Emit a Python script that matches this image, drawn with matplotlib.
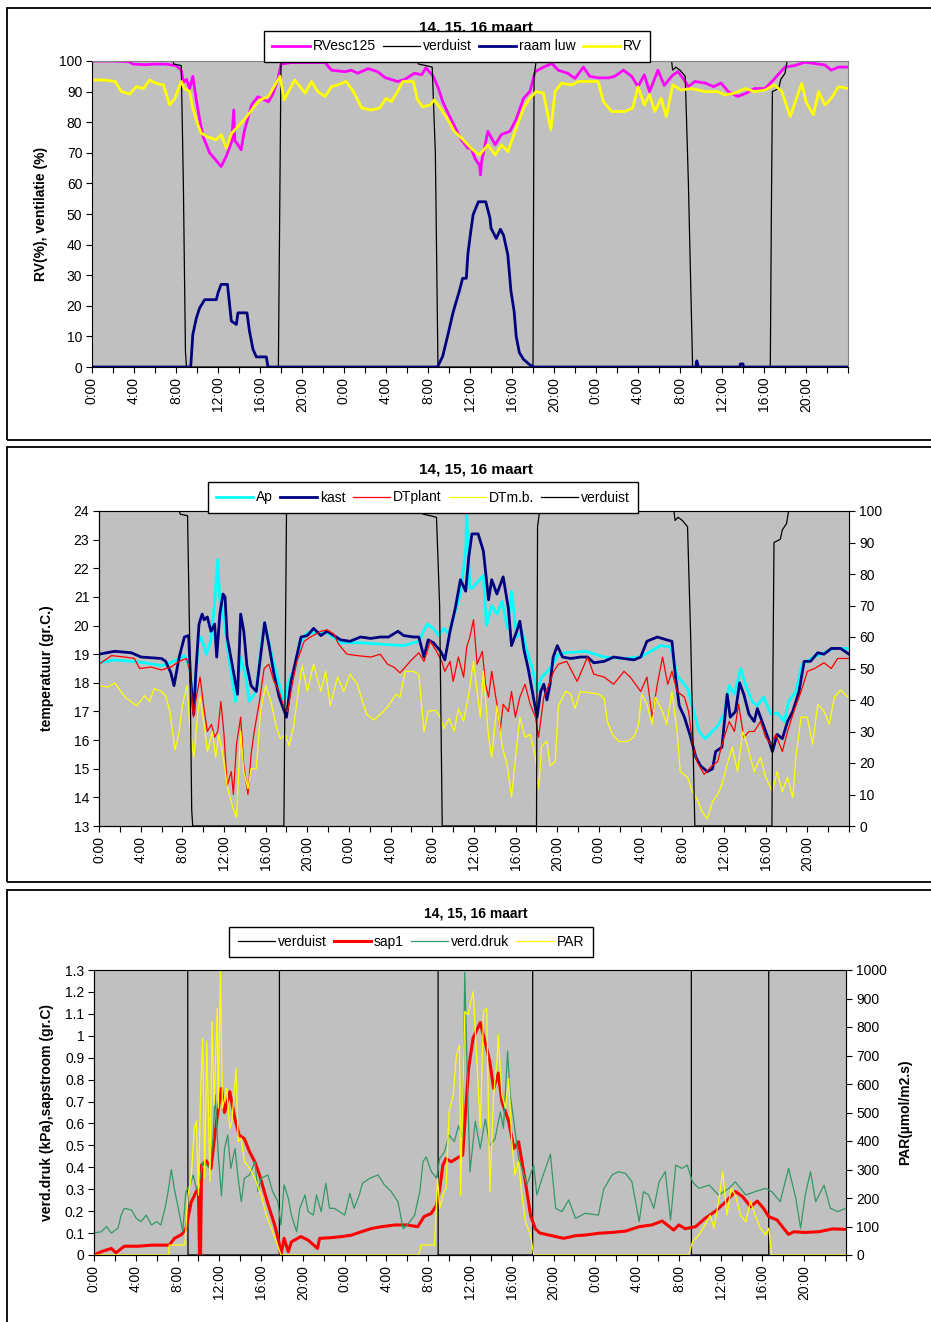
import numpy as np
import matplotlib
matplotlib.use('Agg')
import matplotlib.pyplot as plt
from matplotlib.patches import Rectangle
from matplotlib.ticker import FormatStrFormatter

plt.rcParams['font.family'] = ['Liberation Sans', 'DejaVu Sans']

# ---- data (hours since 14 maart 0:00) ----------------------------------
# verduist (screen) position, %
verduist_t = [0, 7.7, 7.8, 8.5, 8.7, 8.9, 9.0, 17.75, 17.85, 18.0, 31.0, 31.1, 31.8, 32.4,
              32.7, 32.95, 42.0, 42.1, 42.3, 55.2, 55.3, 55.6, 56.0, 56.5, 56.8, 57.2,
              64.6, 64.7, 64.8, 65.4, 65.6, 66.0, 66.2, 72]
verduist_v = [100, 100, 99, 98.5, 60, 5, 0, 0, 40, 100, 100, 99, 98.5, 98,
              70, 0, 0, 95, 100, 100, 97, 98, 97, 95, 60, 0,
              0, 50, 90, 91, 94, 96, 100, 100]

# panel 1
rvesc_t = [0, 2, 3.5, 3.9, 5, 6, 7, 8, 8.5, 8.7, 9.0, 9.3, 9.6, 9.9, 10.0, 10.3, 10.6, 10.9,
           11.2, 11.7, 12.3, 12.8, 13.3, 13.5, 13.6, 13.9, 14.2, 14.5, 14.9, 15.2, 15.8, 16.8,
           17.2, 17.7, 18.0, 19, 22.2, 22.8, 24.1, 24.7, 25.3, 26.3, 27.2, 27.9, 29.1, 29.8,
           30.7, 31.4, 31.8, 32.5, 33.0, 33.4, 33.9, 34.2, 34.9, 35.3, 35.8, 36.1, 36.5, 36.9,
           37.0, 37.1, 37.7, 38.4, 39.0, 39.8, 40.4, 41.1, 41.7, 42.2, 43.0, 43.8, 44.4, 45.3,
           46.0, 46.8, 47.4, 48.2, 49.2, 49.8, 50.6, 51.4, 52.0, 52.6, 53.1, 53.9, 54.5, 55.3,
           55.8, 56.3, 56.8, 57.4, 58.4, 59.2, 59.9, 60.6, 61.5, 62.3, 63.1, 64.1, 64.9, 65.3,
           66.0, 66.9, 67.9, 68.8, 69.8, 70.4, 71.1, 72]
rvesc_v = [100, 100, 99.8, 99, 98.8, 99, 99, 98.5, 97, 93, 94, 91, 95, 88, 86, 80, 75, 72.6,
           70, 68, 65.5, 69, 73.7, 84, 74, 72.6, 71, 77, 82, 85.7, 88.3, 86.7,
           89, 94, 99, 99.5, 99.5, 97, 96.5, 97, 96, 97.5, 96.5, 94.6, 93.3, 94,
           96, 95.5, 97.8, 95, 91, 86.7, 83, 81, 76, 73.7, 71.5, 71.5, 68, 66,
           62.8, 67, 77, 72.6, 76, 77, 81, 87.8, 90, 96.5, 98, 99.2, 97, 96,
           94.3, 98, 95, 94.5, 94.5, 95, 97, 95, 91.6, 95.5, 90, 97, 92, 95.4,
           96.5, 94.3, 91.6, 93.3, 92.8, 91.6, 92.8, 90, 88.4, 89.5, 91, 91, 93.8, 95.4,
           98, 98.5, 99.6, 99.2, 98.7, 97, 98, 98]

rv_t = [0, 1.2, 2.2, 2.8, 3.6, 4.2, 4.9, 5.5, 6.1, 6.8, 7.4, 7.9, 8.5, 8.8, 9.3, 9.6, 10.1,
        10.4, 11.0, 11.8, 12.3, 12.8, 13.3, 13.9, 14.5, 15.2, 16.0, 16.8, 17.4, 17.9, 18.3,
        19.3, 20.3, 20.9, 21.5, 22.2, 22.8, 23.4, 24.2, 24.9, 25.7, 26.6, 27.4, 28.0, 28.5,
        29.1, 29.6, 30.6, 31.0, 31.5, 32.2, 32.6, 33.3, 33.9, 34.5, 35.2, 36.1, 36.9, 37.7,
        38.4, 39.0, 39.6, 40.4, 41.1, 41.7, 42.3, 43.0, 43.7, 44.1, 44.7, 45.7, 46.3, 48.2,
        48.7, 49.5, 50.7, 51.5, 52.0, 52.6, 53.1, 53.6, 54.2, 54.7, 55.3, 56.1, 57.1, 58.4,
        59.6, 60.3, 61.2, 62.2, 63.1, 64.1, 65.0, 65.7, 66.5, 67.2, 67.6, 68.0, 68.7, 69.2,
        69.8, 70.4, 71.1, 72]
rv_v = [93.8, 93.8, 93.3, 90, 89.2, 91.6, 91, 93.8, 92.7, 92.2, 85.6, 87.8, 93.3, 91, 90, 84.6, 79,
        76.4, 75.3, 74.2, 75.9, 71.5, 76.4, 78.6, 80.8, 84, 87.3, 88.4, 92, 95, 87.3,
        93.8, 89.5, 93.3, 90, 88.4, 91.6, 92.2, 93.3, 90, 84.6, 84, 84.6, 87.8, 86.7,
        90, 93.3, 93.3, 87.3, 85, 85.6, 87.3, 84, 80.8, 77, 74.8, 71.5, 69.3, 72.6,
        69.3, 72.6, 70.4, 78, 84.6, 87.8, 90, 89.5, 77.5, 90, 92.7, 92.2, 93.3, 93.3,
        86.7, 83.5, 83.5, 84.6, 91.6, 85.6, 89, 83.5, 87.8, 81.8, 92.2, 90.5, 91, 90,
        90, 88.9, 89.5, 91, 90, 90.5, 92.2, 90, 81.8, 88.9, 92.7, 86.7, 82.4, 90,
        85.6, 87.8, 91.6, 91]

raam_t = [0, 9.4, 9.6, 9.94, 10.25, 10.73, 11.84, 12.0, 12.3, 12.9, 13.27, 13.75, 13.9, 14.76,
          15.0, 15.33, 15.65, 16.6, 16.76, 32.9, 33.4, 33.9, 34.4, 35.0, 35.3, 35.65, 35.8,
          36.1, 36.3, 36.8, 37.5, 37.9, 38.0, 38.5, 38.9, 39.2, 39.6, 39.9, 40.2, 40.4, 40.7,
          41.1, 41.6, 42.0, 57.5, 57.6, 57.75, 61.7, 61.75, 62.0, 62.05, 72]
raam_v = [0, 0, 10.6, 16, 19.3, 22, 22, 24.2, 27, 27, 15, 13.9, 17.7, 17.7,
          11.7, 5.8, 3.3, 3.3, 0, 0, 3.5, 10.6, 18, 25, 29, 29, 37,
          45, 49.8, 54, 54, 48.7, 45.4, 42, 45, 43, 36.7, 24.8, 18.3, 10, 4.7,
          2.5, 1, 0, 0, 2, 0, 0, 1, 1, 0, 0]

# panel 2 (gr.C.)
kast_t = [0, 1.5, 3.1, 4.05, 6, 6.4, 6.9, 7.2, 7.7, 8.2, 8.6, 8.8, 9.1, 9.3, 9.6, 9.9, 10.1,
          10.4, 10.75, 11.1, 11.3, 11.6, 11.9, 12.1, 12.3, 12.7, 13.0, 13.3, 13.6, 13.9, 14.2,
          14.6, 15.1, 15.5, 15.9, 16.3, 16.8, 17.3, 17.7, 18.0, 18.4, 18.9, 19.4, 20, 20.6,
          21.3, 21.9, 22.55, 23.2, 24.1, 25.1, 26.1, 27, 27.8, 28.7, 29.25, 30.2, 30.7, 31.2,
          31.6, 32.1, 32.8, 33.2, 33.7, 34.2, 34.7, 35.2, 35.5, 35.8, 36.4, 36.9, 37.4, 37.7,
          38.2, 38.8, 39.3, 39.6, 40.1, 40.4, 40.8, 41.2, 41.7, 42.05, 42.4, 42.7, 43, 43.3,
          43.6, 44.0, 44.5, 45.3, 46.2, 46.9, 47.5, 48.5, 49.4, 50.4, 51.35, 52, 52.6, 53.6,
          54.5, 55, 55.35, 55.7, 56.2, 56.8, 57.3, 57.75, 58.4, 58.9, 59.2, 59.8, 60.3, 60.6,
          61.1, 61.5, 61.9, 62.4, 62.9, 63.2, 63.7, 64.2, 64.65, 65.1, 65.6, 66.1, 66.6, 67.2,
          67.7, 68.3, 69, 69.6, 70.3, 71.2, 72]
kast_v = [19.0, 19.1, 19.05, 18.9, 18.85, 18.75, 18.35, 17.9, 18.9, 19.6, 19.65, 18.1, 16.9, 18.4,
          20.05, 20.4, 20.2, 20.3, 19.8, 20.05, 18.9, 20.4, 21.1, 21.0, 19.6, 18.8, 18.2, 17.6,
          20.4, 19.8, 18.6, 17.9, 17.7, 18.9, 20.1, 19.35, 18.3, 17.5, 17.1, 16.8, 18.0, 18.8,
          19.6, 19.65, 19.9, 19.65, 19.8, 19.65, 19.5, 19.45, 19.6, 19.55, 19.6, 19.6, 19.8,
          19.65, 19.6, 19.6, 18.9, 19.5, 19.4, 19.1, 18.8, 19.8, 20.6, 21.6, 21.2, 22.4, 23.2,
          23.2, 22.6, 20.9, 21.6, 21.1, 21.7, 20.6, 19.3, 19.8, 20.15, 19.15, 18.5, 17.5, 16.8,
          17.7, 17.95, 17.4, 17.95, 18.9, 19.3, 18.9, 18.85, 18.9, 18.9, 18.7, 18.75, 18.9,
          18.85, 18.8, 18.9, 19.45, 19.6, 19.5, 19.45, 18.2, 17.2, 16.8, 16.1, 15.4, 15.1,
          14.9, 15.0, 15.6, 15.75, 17.6, 16.8, 17.0, 18.0, 17.6, 16.9, 16.65, 17.1, 16.6, 16.1,
          15.6, 16.2, 16.05, 16.65, 17.0, 17.7, 18.75, 18.75, 19.05, 19.0, 19.2, 19.2, 19.0]

ap_t = [0, 1.5, 3.1, 4.4, 6, 7.2, 8.2, 8.7, 9.1, 9.5, 9.8, 10.3, 10.75, 11.1, 11.4, 11.6, 12.0,
        12.5, 13.1, 13.6, 14.1, 14.4, 15.1, 15.5, 15.9, 16.5, 17.1, 17.8, 18.2, 18.9, 19.4,
        20, 21.9, 23.2, 25.1, 27, 29.25, 30.7, 31.5, 32.1, 32.6, 33.1, 33.6, 34.2, 34.7,
        35.2, 35.3, 35.6, 35.8, 36.9, 37.2, 37.7, 38.2, 38.7, 39.2, 39.6, 40.1, 40.6, 41.1,
        41.6, 42.05, 42.5, 43.3, 44.1, 44.8, 46.7, 48.5, 50.4, 52, 52.95, 53.9, 54.9, 55.5,
        56.5, 57.1, 57.6, 58.2, 59.4, 60.0, 60.5, 61, 61.6, 62.1, 62.7, 63.2, 63.8, 64.5,
        65.1, 65.8, 66.2, 66.9, 67.5, 68.6, 69.6, 70.6, 72]
ap_v = [18.7, 18.8, 18.75, 18.7, 18.6, 18.75, 18.95, 18.55, 17.0, 19.35, 19.6, 19.0, 19.5, 20.8,
        22.3, 20.9, 20.2, 18.8, 17.35, 18.9, 18.2, 17.35, 17.7, 19.1, 20.1, 19.1, 18.2, 17.35,
        18.05, 18.6, 19.45, 19.75, 19.75, 19.4, 19.4, 19.35, 19.3, 19.45, 20.05, 19.9, 19.65,
        19.9, 19.7, 20.5, 21.1, 22.6, 24.0, 21.3, 21.3, 21.75, 20.0, 20.7, 20.4, 20.85, 19.9,
        21.2, 19.6, 19.8, 19.1, 18.5, 17.7, 18.2, 18.5, 19.0, 19.05, 19.1, 18.9, 18.85, 18.9,
        19.1, 19.3, 19.25, 18.25, 17.8, 17.0, 16.3, 16.05, 16.5, 16.9, 17.9, 17.6, 18.5,
        17.9, 17.35, 17.2, 17.5, 16.9, 16.95, 16.65, 17.35, 17.7, 18.65, 18.9, 19.05, 19.2, 19.2]

dtplant_t = [0, 1.2, 2.5, 3.4, 3.9, 5, 6, 6.9, 7.7, 8.4, 8.7, 9.06, 9.3, 9.7, 10.1, 10.4, 10.8,
             11.1, 11.4, 11.7, 12.0, 12.3, 12.7, 12.9, 13.2, 13.6, 13.9, 14.3, 14.6, 14.9, 15.4,
             15.85, 16.3, 16.8, 17.3, 17.8, 18.1, 18.6, 19, 19.7, 20.3, 21.3, 21.9, 22.55, 23.0,
             23.8, 24.8, 26.1, 27, 27.7, 28.3, 28.9, 29.4, 30.0, 30.7, 31.2, 31.8, 32.4, 32.9,
             33.2, 33.7, 34.0, 34.5, 35.0, 35.3, 35.6, 35.95, 36.3, 36.8, 37.1, 37.4, 37.7, 38.2,
             38.5, 38.8, 39.3, 39.6, 39.97, 40.4, 40.9, 41.4, 41.9, 42.2, 42.7, 43.2, 43.65, 44.1,
             44.9, 45.4, 45.9, 46.9, 47.5, 48.5, 49.4, 50.4, 51, 52, 52.6, 53.1, 53.6, 54.1, 54.6,
             55.0, 55.5, 56.2, 56.6, 57, 57.4, 58.1, 58.7, 59.4, 59.8, 60.5, 61, 61.4, 61.9, 62.4,
             62.9, 63.5, 64, 64.5, 64.96, 65.6, 66.1, 66.7, 67.4, 68, 68.7, 69.6, 70.3, 70.9, 72]
dtplant_v = [18.65, 18.95, 18.9, 18.85, 18.5, 18.55, 18.45, 18.55, 18.75, 18.85, 18.45, 16.8, 17.4,
             18.2, 17.05, 16.3, 16.55, 16.1, 16.3, 17.35, 16.2, 14.4, 14.9, 14.1, 15.85, 16.8,
             15.1, 14.1, 15.5, 16.3, 17.35, 18.5, 18.65, 18.05, 17.7, 17.1, 17.0, 18.05, 18.75,
             19.45, 19.6, 19.8, 19.85, 19.7, 19.35, 19.0, 18.95, 18.9, 19.0, 18.65, 18.55, 18.35,
             18.55, 18.8, 19.05, 18.75, 19.45, 19.1, 18.75, 18.4, 18.75, 18.05, 18.9, 18.2, 19.25,
             19.6, 20.2, 18.65, 19.1, 17.95, 17.5, 18.4, 17.25, 16.3, 17.25, 17.0, 17.7, 16.8,
             17.5, 17.95, 17.25, 16.8, 16.1, 17.5, 17.95, 18.4, 18.65, 18.75, 18.4, 18.05, 18.9,
             18.3, 18.2, 17.95, 18.4, 18.2, 17.7, 18.2, 16.8, 17.95, 18.9, 17.95, 18.4, 17.7,
             17.5, 17.0, 15.85, 15.25, 14.8, 15.05, 15.25, 15.85, 16.65, 16.3, 17.25, 16.1,
             16.3, 16.3, 16.65, 16.1, 15.85, 16.2, 15.6, 16.3, 17.0, 17.7, 18.4, 18.5, 18.7,
             18.5, 18.85, 18.85]

dtmb_t = [0, 0.86, 1.5, 2.5, 3.6, 4.4, 4.85, 5.3, 6, 6.4, 6.8, 7.3, 7.7, 8.0, 8.45, 8.7, 9.1, 9.5,
          9.7, 10.1, 10.4, 10.9, 11.2, 11.5, 12.0, 12.3, 12.8, 13.2, 13.6, 13.9, 14.3, 14.6, 15.1,
          15.5, 16, 16.5, 17, 17.4, 17.9, 18.25, 18.7, 19.2, 19.5, 20, 20.6, 21.3, 21.75, 22.2,
          22.9, 23.5, 24.1, 24.8, 25.3, 25.7, 26.4, 27.3, 27.8, 28.5, 28.9, 29.4, 30.2, 30.7,
          31.2, 31.6, 32.3, 32.8, 33.1, 33.6, 34.1, 34.5, 35, 35.5, 35.95, 36.3, 36.6, 36.9,
          37.4, 37.7, 38.2, 38.7, 39.2, 39.6, 40.1, 40.4, 40.9, 41.4, 41.9, 42.2, 42.5, 43,
          43.3, 43.8, 44.1, 44.8, 45.3, 45.7, 46.2, 47.2, 48, 48.5, 48.8, 49.3, 49.9, 50.7,
          51.35, 51.8, 52.1, 52.6, 53.1, 53.4, 54.1, 54.5, 55.0, 55.5, 55.8, 56.5, 56.95, 57.4,
          57.9, 58.4, 58.9, 59.4, 59.8, 60.3, 60.8, 61.3, 61.8, 62.2, 62.9, 63.5, 64, 64.65,
          65.1, 65.6, 66.1, 66.6, 66.9, 67.4, 68, 68.5, 69, 69.6, 70.1, 70.6, 71.2, 71.9]
dtmb_v = [17.9, 17.85, 18.0, 17.5, 17.2, 17.55, 17.35, 17.8, 17.7, 17.55, 17.0, 15.65, 16.3, 17.2,
          17.9, 16.6, 15.4, 17.0, 17.5, 16.5, 15.6, 16.3, 15.4, 16.2, 15.25, 14.4, 13.7, 13.3,
          16.3, 14.9, 14.3, 15.0, 15.0, 17.0, 17.9, 17.35, 16.5, 16.05, 16.2, 15.8, 16.5, 17.9,
          18.6, 17.7, 18.65, 17.7, 18.4, 17.2, 18.2, 17.7, 18.3, 17.95, 17.35, 16.9, 16.7, 17.0,
          17.2, 17.6, 17.5, 18.4, 18.4, 18.3, 16.3, 17.0, 17.05, 16.75, 16.4, 16.75, 16.3, 17.1,
          16.65, 17.6, 18.75, 17.7, 16.8, 18.4, 16.1, 15.4, 17.2, 15.8, 15.1, 14.0, 15.8, 16.8,
          16.1, 16.2, 15.4, 14.3, 15.8, 15.95, 15.1, 15.25, 17.2, 17.7, 17.6, 17.1, 17.7, 17.65,
          17.6, 17.45, 16.65, 16.2, 15.95, 15.95, 16.1, 16.55, 17.6, 17.25, 16.55, 17.5, 17.0,
          16.55, 17.7, 16.3, 14.9, 14.7, 14.2, 13.95, 13.5, 13.25, 13.85, 14.1, 14.45, 15.15,
          15.75, 14.9, 16.3, 15.85, 14.9, 15.4, 14.7, 14.2, 14.9, 14.2, 14.7, 14.0, 15.4, 16.8,
          16.8, 15.85, 17.25, 17.0, 16.55, 17.5, 17.75, 17.5]

# panel 3
sap_t = [0, 0.7, 1.66, 2.1, 2.9, 4.2, 5.5, 6.3, 7.2, 7.7, 8.4, 8.8, 9.3, 9.8, 10.0, 10.1, 10.2,
         10.3, 10.75, 11.2, 11.5, 11.9, 12.2, 12.5, 13.0, 13.5, 13.9, 14.4, 14.9, 15.4, 15.85,
         16.3, 16.8, 17.3, 17.7, 17.9, 18.2, 18.6, 18.9, 19.8, 20.5, 21.4, 21.6, 22.7, 23.7,
         24.6, 25.6, 26.5, 27.5, 28.8, 30.0, 31, 31.6, 32.3, 32.8, 33.1, 33.4, 33.7, 34.2,
         34.7, 35.3, 35.6, 35.86, 36.3, 36.98, 37.46, 37.9, 38.26, 38.7, 39.05, 39.7, 40.2,
         40.65, 40.97, 41.3, 41.8, 42.25, 42.7, 43.85, 44.96, 46.1, 47.04, 48.3, 49.6, 50.9,
         52.2, 53.4, 54.4, 55.5, 56, 56.6, 57.6, 58.5, 59.5, 60.5, 61.4, 62.1, 62.86, 63.5,
         64.1, 64.6, 65.4, 66.05, 66.5, 67, 68.1, 69.4, 70.7, 72]
sap_v = [0.0, 0.015, 0.03, 0.01, 0.04, 0.04, 0.045, 0.045, 0.045, 0.076, 0.094, 0.12, 0.24, 0.29,
         0.3, 0.0, 0.0, 0.41, 0.43, 0.395, 0.52, 0.67, 0.76, 0.65, 0.745, 0.62, 0.547, 0.53,
         0.47, 0.425, 0.365, 0.29, 0.21, 0.137, 0.06, 0.0, 0.076, 0.015, 0.06, 0.084, 0.068,
         0.03, 0.076, 0.079, 0.084, 0.09, 0.106, 0.12, 0.129, 0.137, 0.137, 0.129, 0.175, 0.19,
         0.228, 0.30, 0.41, 0.44, 0.425, 0.44, 0.456, 0.67, 0.85, 0.99, 1.06, 0.97, 0.88, 0.76,
         0.83, 0.70, 0.61, 0.486, 0.517, 0.426, 0.334, 0.18, 0.12, 0.1, 0.088, 0.076, 0.088,
         0.091, 0.099, 0.103, 0.109, 0.129, 0.137, 0.155, 0.114, 0.137, 0.12, 0.129, 0.167,
         0.20, 0.243, 0.29, 0.266, 0.22, 0.246, 0.213, 0.175, 0.16, 0.12, 0.094, 0.106,
         0.103, 0.106, 0.119, 0.117]

druk_t = [0, 0.7, 1.2, 1.66, 2.3, 2.6, 2.9, 3.6, 4.05, 4.5, 5.0, 5.5, 6.0, 6.4, 6.8, 7.1, 7.4,
          7.7, 8.2, 8.5, 8.8, 9.2, 9.5, 9.8, 10.1, 10.4, 10.75, 11.1, 11.4, 11.6, 11.9, 12.2,
          12.5, 12.8, 13.1, 13.5, 13.8, 14.1, 14.4, 14.9, 15.4, 15.7, 16, 16.65, 17.1, 17.6,
          17.9, 18.2, 18.6, 18.9, 19.4, 19.7, 20.2, 20.5, 21, 21.3, 21.75, 22.2, 22.55, 23,
          23.5, 24, 24.5, 24.9, 25.4, 25.7, 26.4, 27.2, 27.8, 28.45, 29.1, 29.6, 30.0, 30.7,
          31.2, 31.5, 31.8, 32.3, 32.8, 33.1, 33.55, 34.0, 34.5, 34.9, 35.3, 35.5, 35.8, 36.0,
          36.5, 36.98, 37.46, 37.9, 38.4, 38.9, 39.2, 39.6, 39.85, 40.2, 40.65, 40.97, 41.45,
          42.1, 42.4, 42.9, 43.7, 44.2, 44.8, 45.45, 46.1, 47.04, 48.3, 48.8, 49.6, 50.2, 50.9,
          51.5, 52.2, 52.6, 53.1, 53.6, 54.1, 54.7, 55.2, 55.7, 56.3, 56.8, 57.3, 57.9, 58.9,
          59.8, 60.8, 61.4, 62.4, 63.3, 64.3, 64.9, 65.7, 66.5, 67.2, 67.65, 68.1, 68.6, 69.1,
          69.9, 70.5, 71.2, 72]
druk_v = [0.1, 0.106, 0.13, 0.1, 0.122, 0.182, 0.213, 0.205, 0.167, 0.152, 0.182, 0.137, 0.152,
          0.137, 0.213, 0.29, 0.39, 0.30, 0.182, 0.106, 0.29, 0.32, 0.365, 0.30, 0.334, 0.425,
          0.41, 0.395, 0.53, 0.73, 0.456, 0.27, 0.486, 0.547, 0.395, 0.486, 0.35, 0.243, 0.35,
          0.365, 0.425, 0.29, 0.35, 0.365, 0.29, 0.243, 0.137, 0.32, 0.26, 0.182, 0.106, 0.213,
          0.274, 0.198, 0.182, 0.274, 0.198, 0.327, 0.213, 0.213, 0.198, 0.182, 0.281, 0.213,
          0.274, 0.327, 0.35, 0.365, 0.32, 0.29, 0.243, 0.12, 0.137, 0.182, 0.29, 0.425, 0.448,
          0.38, 0.35, 0.44, 0.47, 0.547, 0.517, 0.59, 0.53, 1.29, 0.70, 0.38, 0.61, 0.486, 0.62,
          0.50, 0.53, 0.653, 0.578, 0.93, 0.73, 0.61, 0.44, 0.395, 0.32, 0.41, 0.274, 0.35,
          0.46, 0.213, 0.198, 0.251, 0.167, 0.19, 0.182, 0.30, 0.365, 0.38, 0.372, 0.334, 0.152,
          0.289, 0.274, 0.213, 0.334, 0.38, 0.160, 0.41, 0.395, 0.41, 0.334, 0.304, 0.319,
          0.274, 0.304, 0.334, 0.274, 0.289, 0.304, 0.289, 0.243, 0.395, 0.258, 0.122, 0.274,
          0.38, 0.243, 0.319, 0.213, 0.198, 0.213]

par_t = [0, 7.15, 7.2, 8.7, 9.0, 9.3, 9.6, 9.8, 10.0, 10.2, 10.4, 10.6, 10.8, 11.1, 11.3, 11.5,
         11.8, 11.9, 12.1, 12.3, 12.7, 13.0, 13.2, 13.6, 13.8, 14.1, 14.4, 14.9, 15.4, 16, 16.5,
         16.97, 17.45, 17.9, 31.1, 31.3, 32.6, 32.9, 33.1, 33.4, 33.7, 34.0, 34.4, 34.7, 35.0,
         35.1, 35.5, 35.8, 36.3, 36.66, 36.98, 37.3, 37.6, 37.9, 38.26, 38.6, 38.7, 39.05, 39.4,
         39.7, 40.0, 40.3, 40.65, 40.97, 41.3, 41.8, 42.1, 56.95, 57.3, 57.9, 58.5, 59.0, 59.35,
         59.8, 60.2, 60.6, 61.0, 61.4, 61.9, 62.4, 62.86, 63.3, 63.8, 64.3, 64.6, 64.9, 72]
par_v = [0, 0, 35, 35, 210, 270, 445, 470, 210, 560, 760, 270, 750, 257, 820, 526, 865, 515,
         1000, 515, 585, 445, 468, 655, 398, 410, 328, 304, 269, 210, 140, 94, 47, 0, 0, 35, 35,
         270, 164, 211, 234, 503, 562, 702, 737, 211, 854, 843, 924, 679, 445, 854, 866, 222,
         562, 690, 772, 562, 515, 620, 398, 281, 328, 211, 117, 70, 0, 0, 47, 70, 105, 140, 94,
         187, 292, 140, 234, 211, 140, 117, 187, 140, 94, 70, 94, 0, 0]

# ---- layout helpers -----------------------------------------------------
W, H = 931, 1322
GREY = '#C0C0C0'
hours = np.arange(0, 73, 2)
hour_labels = ['%d:00' % (h % 24) if (h % 4 == 0 and h < 72) else '' for h in hours]


def px_axes(fig, x0, y0, x1, y1):
    """ axes from pixel box (top-left origin) """
    ax = fig.add_axes([x0 / W, 1 - y1 / H, (x1 - x0) / W, (y1 - y0) / H])
    ax.set_facecolor(GREY)
    ax.set_xlim(0, 72)
    ax.set_xticks(hours)
    ax.set_xticklabels(hour_labels, rotation=90, fontsize=10)
    ax.tick_params(direction='out', length=4, width=0.8, labelsize=10, pad=3)
    ax.spines['top'].set_color('#808080')
    ax.spines['right'].set_color('#808080')
    return ax


def panel_box(fig, y0, y1):
    fig.patches.append(Rectangle((7 / W, 1 - y1 / H), 940 / W, (y1 - y0) / H,
                                 transform=fig.transFigure, fill=False,
                                 edgecolor='black', linewidth=1.3))


def legend(fig, handles, labels, cx, cy):
    leg = fig.legend(handles, labels, loc='center', bbox_to_anchor=(cx / W, 1 - cy / H),
                     ncol=len(handles), fancybox=False, edgecolor='black', framealpha=1,
                     fontsize=10, handlelength=2.7, handletextpad=0.2, columnspacing=0.5,
                     borderpad=0.6)
    leg.set_zorder(5)


fig = plt.figure(figsize=(W / 100, H / 100), dpi=100)
fig.patch.set_facecolor('white')

# ---- panel 1 -------------------------------------------------------------
panel_box(fig, 8, 440)
ax1 = px_axes(fig, 92, 61, 848, 367)
ax1.set_ylim(0, 100)
ax1.set_yticks(np.arange(0, 101, 10))
l_rvesc, = ax1.plot(rvesc_t, rvesc_v, color='#FF00FF', lw=2.0)
l_verd1, = ax1.plot(verduist_t, verduist_v, color='black', lw=0.9)
l_raam, = ax1.plot(raam_t, raam_v, color='#000080', lw=2.0)
l_rv, = ax1.plot(rv_t, rv_v, color='#FFFF00', lw=2.0)
ax1.set_ylabel('RV(%), ventilatie (%)', fontsize=10, fontweight='bold', labelpad=8)
fig.text(476 / W, 1 - 28 / H, '14, 15, 16 maart', ha='center', va='center',
         fontsize=11, fontweight='bold')
legend(fig, [l_rvesc, l_verd1, l_raam, l_rv], ['RVesc125', 'verduist', 'raam luw', 'RV'],
       457, 46.5)

# ---- panel 2 -------------------------------------------------------------
panel_box(fig, 447, 882)
ax2 = px_axes(fig, 99, 511, 849, 826)
ax2.set_ylim(13, 24)
ax2.set_yticks(np.arange(13, 25, 1))
l_ap, = ax2.plot(ap_t, ap_v, color='#00FFFF', lw=2.0)
l_kast, = ax2.plot(kast_t, kast_v, color='#000080', lw=2.0)
l_dtp, = ax2.plot(dtplant_t, dtplant_v, color='#FF0000', lw=0.9)
l_dtm, = ax2.plot(dtmb_t, dtmb_v, color='#FFFF00', lw=0.9)
ax2b = ax2.twinx()
ax2b.set_ylim(0, 100)
ax2b.set_yticks(np.arange(0, 101, 10))
ax2b.tick_params(direction='out', length=4, width=0.8, labelsize=10)
l_verd2, = ax2b.plot(verduist_t, verduist_v, color='black', lw=0.9)
ax2.set_ylabel('temperatuur (gr.C.)', fontsize=10, fontweight='bold', labelpad=14)
fig.text(476 / W, 1 - 470 / H, '14, 15, 16 maart', ha='center', va='center',
         fontsize=11, fontweight='bold')
legend(fig, [l_ap, l_kast, l_dtp, l_dtm, l_verd2],
       ['Ap', 'kast', 'DTplant', 'DTm.b.', 'verduist'], 423, 497.5)

# ---- panel 3 -------------------------------------------------------------
panel_box(fig, 890, 1340)
ax3 = px_axes(fig, 94, 970, 846, 1255)
ax3.set_ylim(0, 1.3)
ax3.set_yticks(np.arange(0, 1.31, 0.1))
ax3.yaxis.set_major_formatter(FormatStrFormatter('%g'))
l_verd3, = ax3.plot(verduist_t, verduist_v, color='black', lw=0.9)
l_sap, = ax3.plot(sap_t, sap_v, color='#FF0000', lw=2.2)
l_druk, = ax3.plot(druk_t, druk_v, color='#339966', lw=0.9)
ax3b = ax3.twinx()
ax3b.set_ylim(0, 1000)
ax3b.set_yticks(np.arange(0, 1001, 100))
ax3b.tick_params(direction='out', length=4, width=0.8, labelsize=10)
l_par, = ax3b.plot(par_t, par_v, color='#FFFF00', lw=0.9)
ax3.set_ylabel('verd.druk (kPa),sapstroom (gr.C)', fontsize=10, fontweight='bold', labelpad=8)
ax3b.set_ylabel('PAR(\u00b5mol/m2.s)', fontsize=10, fontweight='bold', labelpad=8)
fig.text(476 / W, 1 - 913 / H, '14, 15, 16 maart', ha='center', va='center',
         fontsize=10, fontweight='bold')
legend(fig, [l_verd3, l_sap, l_druk, l_par], ['verduist', 'sap1', 'verd.druk', 'PAR'],
       411, 942)

fig.savefig('out.png', dpi=100)
